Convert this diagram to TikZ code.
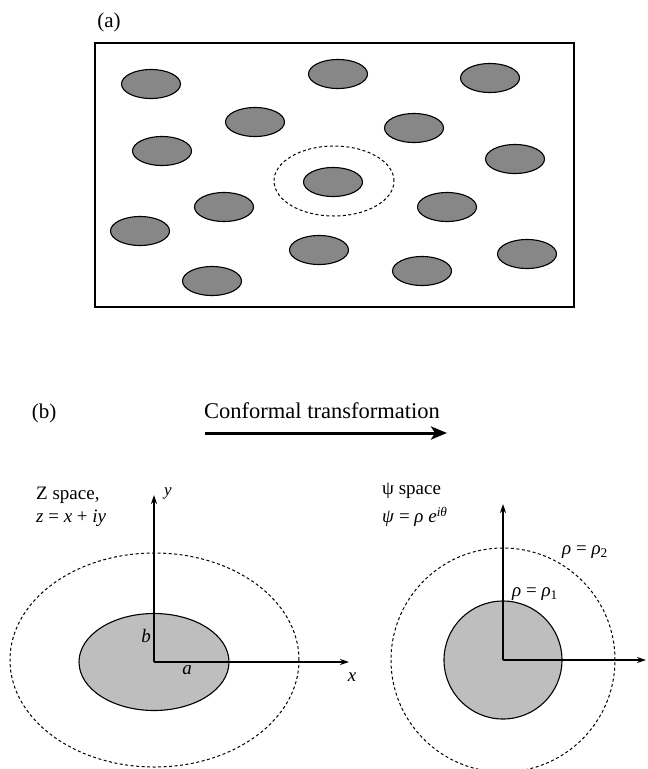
\documentclass[tikz,border=0pt]{standalone}
\usepackage{fontspec}
\setmainfont{Liberation Serif}
\usetikzlibrary{shapes.geometric,arrows.meta}
\definecolor{agray}{RGB}{135,135,135}
\definecolor{bgray}{RGB}{190,190,190}
\begin{document}
\begin{tikzpicture}[x=1pt,y=-1pt,
  blob/.style={ellipse,draw=black,line width=1.1pt,fill=agray,minimum width=59pt,minimum height=29pt,inner sep=0pt},
  dashline/.style={draw=black,line width=1pt,dash pattern=on 3pt off 2.5pt},
  lab/.style={inner sep=0pt,font=\fontsize{19}{22}\selectfont},
  biglab/.style={inner sep=0pt,font=\fontsize{21}{24}\selectfont},
  axis/.style={line width=1.4pt,-{Stealth[length=9pt,width=6pt]}}
]
\useasboundingbox (0,0) rectangle (648,769);
% ---------- (a) ----------
\node[biglab] (la) at (109,22) {(a)};
\draw[line width=2.5pt] (95,43) rectangle (574,307);
\node[ellipse,dashline,minimum width=120pt,minimum height=70pt,inner sep=0pt] (ring) at (334,181) {};
\node[blob] (e1) at (151,84) {};
\node[blob] (e2) at (338,74) {};
\node[blob] (e3) at (490,78) {};
\node[blob] (e4) at (255,122) {};
\node[blob] (e5) at (414,128) {};
\node[blob] (e6) at (162,151) {};
\node[blob] (e7) at (515,159) {};
\node[blob] (e8) at (333,182) {};
\node[blob] (e9) at (224,207) {};
\node[blob] (e10) at (447,207) {};
\node[blob] (e11) at (140,231) {};
\node[blob] (e12) at (319,250) {};
\node[blob] (e13) at (527,254) {};
\node[blob] (e14) at (422,271) {};
\node[blob] (e15) at (212,281) {};
% ---------- (b) ----------
\node[biglab] (lb) at (44,413) {(b)};
\node[inner sep=0pt,font=\fontsize{22.5}{26}\selectfont] (ct) at (322,411) {Conformal transformation};
\coordinate (ca) at (205,433);
\coordinate (cb) at (447,433);
\draw[line width=3pt,-{Stealth[length=16pt,width=13pt,inset=4pt]}] (ca) -- (cb);
% left: Z space
\node[lab,anchor=west] (zs) at (36,495) {Z space,};
\node[lab,anchor=west] (zeq) at (36,518) {\textit{z} = \textit{x} + \textit{iy}};
\node[ellipse,dashline,minimum width=289pt,minimum height=214pt,inner sep=0pt] (zout) at (154.5,660) {};
\node[ellipse,draw=black,line width=1.1pt,fill=bgray,minimum width=150pt,minimum height=97pt,inner sep=0pt] (zin) at (154,662) {};
\coordinate (o1) at (154,662);
\coordinate (yt1) at (154,495);
\coordinate (xt1) at (349,662);
\draw[axis] (o1) -- (yt1);
\draw[axis] (o1) -- (xt1);
\node[lab,font=\fontsize{17}{20}\selectfont\itshape] (ly) at (168,493) {y};
\node[lab,font=\fontsize{19}{22}\selectfont\itshape] (lx) at (352,677) {x};
\node[lab,font=\fontsize{19}{22}\selectfont\itshape] (lbb) at (146,636) {b};
\node[lab,font=\fontsize{19}{22}\selectfont\itshape] (laa) at (187,670) {a};
% right: psi space
\node[lab,anchor=west] (ps) at (382,491) {ψ space};
\node[lab,anchor=west] (peq) at (382,517) {\textit{ψ} = \textit{ρ e}\textsuperscript{\itshape iθ}};
\node[circle,dashline,minimum size=224pt,inner sep=0pt] (pout) at (503,660) {};
\node[circle,draw=black,line width=1.1pt,fill=bgray,minimum size=118pt,inner sep=0pt] (pin) at (503,660) {};
\coordinate (o2) at (503,660);
\coordinate (yt2) at (503,504);
\coordinate (xt2) at (646,660);
\draw[axis] (o2) -- (yt2);
\draw[axis] (o2) -- (xt2);
\node[lab,anchor=west] (r2) at (562,552) {\textit{ρ} = \textit{ρ}\textsubscript{2}};
\node[lab,anchor=west] (r1) at (512,594) {\textit{ρ} = \textit{ρ}\textsubscript{1}};
\end{tikzpicture}
\end{document}
